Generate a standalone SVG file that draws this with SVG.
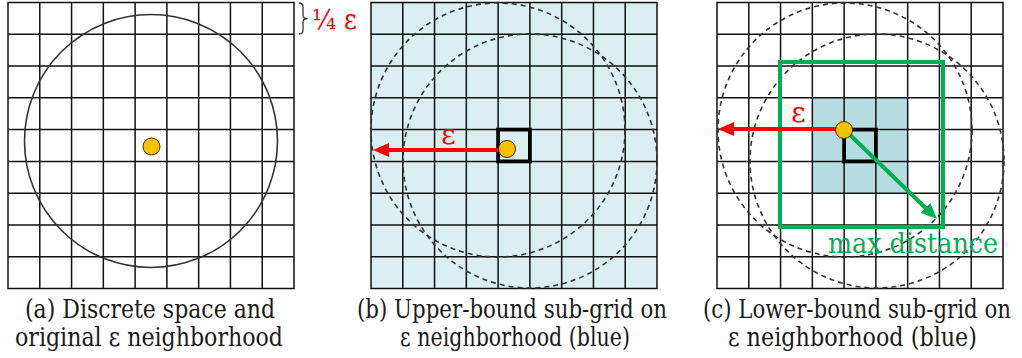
<svg xmlns="http://www.w3.org/2000/svg" xmlns:xlink="http://www.w3.org/1999/xlink" width="1022" height="358" viewBox="0 0 1022 358">
<style>
.grid{fill:none;stroke:#111;stroke-width:1.5}
.circ{fill:none;stroke:#333;stroke-width:1.6}
.dash{fill:none;stroke:#333;stroke-width:1.6;stroke-dasharray:5 4}
.cell{fill:none;stroke:#000;stroke-width:3.8}
.dot{fill:#ffc000;stroke:#3a3000;stroke-width:1}
.red{stroke:#ff0000;stroke-width:4;fill:none}
.green{stroke:#00b050;stroke-width:4;fill:none}
text{font-family:"DejaVu Serif","Liberation Serif",serif}
.lbl{font-size:28px}
.cap{font-size:26px;fill:#1a1a1a;text-anchor:middle}
</style>
<defs>
<path id="gridlines" class="grid" d="M0,0H286V286H0Z M31.78,0V286 M63.56,0V286 M95.33,0V286 M127.11,0V286 M158.89,0V286 M190.67,0V286 M222.44,0V286 M254.22,0V286 M0,31.78H286 M0,63.56H286 M0,95.33H286 M0,127.11H286 M0,158.89H286 M0,190.67H286 M0,222.44H286 M0,254.22H286"/>
<marker id="ahRed" markerUnits="userSpaceOnUse" markerWidth="16" markerHeight="14" viewBox="0 0 16 14" refX="2" refY="7" orient="auto"><path d="M0,0L16,7L0,14Z" fill="#ff0000"/></marker>
<marker id="ahGreen" markerUnits="userSpaceOnUse" markerWidth="16" markerHeight="14" viewBox="0 0 16 14" refX="2" refY="7" orient="auto"><path d="M0,0L16,7L0,14Z" fill="#00b050"/></marker>
</defs>

<g id="panel-a">
<use xlink:href="#gridlines" href="#gridlines" transform="translate(8,2.5)"/>
<circle class="circ" cx="151" cy="141" r="126.5"/>
<path d="M299,3 Q303,3 303,7 L303,15 Q303,18.5 307.5,18.5 Q303,18.5 303,22 L303,30 Q303,34 299,34" fill="none" stroke="#333" stroke-width="1.3"/>
<text x="312" y="29" fill="#ff0000" font-size="27" textLength="45" lengthAdjust="spacingAndGlyphs">¼ ε</text>
<circle class="dot" cx="151.5" cy="146.5" r="8.5"/>
<text class="cap" x="150" y="318" textLength="250" lengthAdjust="spacingAndGlyphs">(a) Discrete space and</text>
<text class="cap" x="149" y="346" textLength="268" lengthAdjust="spacingAndGlyphs">original ε neighborhood</text>
</g>

<g id="panel-b">
<rect x="371" y="2.5" width="286" height="286" fill="#dbeef0"/>
<use xlink:href="#gridlines" href="#gridlines" transform="translate(371,2.5)"/>
<circle class="dash" cx="498" cy="130" r="127"/>
<circle class="dash" cx="530" cy="161" r="127"/>
<rect class="cell" x="498.1" y="129.6" width="31.8" height="31.8"/>
<text class="cap" x="512" y="318" textLength="310" lengthAdjust="spacingAndGlyphs">(b) Upper-bound sub-grid on</text>
<text class="cap" x="515" y="346" textLength="230" lengthAdjust="spacingAndGlyphs">ε neighborhood (blue)</text>
</g>

<g id="panel-c">
<rect x="812.3" y="97.8" width="95.4" height="95.4" fill="#b6dce1"/>
<use xlink:href="#gridlines" href="#gridlines" transform="translate(717,2.5)"/>
<circle class="dash" cx="845" cy="130" r="127"/>
<circle class="dash" cx="877" cy="161" r="127"/>
<rect class="cell" x="844.1" y="129.6" width="31.8" height="31.8"/>
<rect x="780" y="62" width="163" height="165" class="green"/>
<text class="cap" x="857" y="318" textLength="308" lengthAdjust="spacingAndGlyphs">(c) Lower-bound sub-grid on</text>
<text class="cap" x="852.5" y="346" textLength="249" lengthAdjust="spacingAndGlyphs">ε neighborhood (blue)</text>
</g>

<g id="connectors">
<line class="red" x1="500" y1="150" x2="387" y2="150" marker-end="url(#ahRed)"/>
<line class="red" x1="840" y1="129" x2="732" y2="129" marker-end="url(#ahRed)"/>
<line class="green" x1="845" y1="130" x2="926.9" y2="209.3" marker-end="url(#ahGreen)"/>
</g>

<g id="labels">
<text class="lbl" x="448.5" y="144" fill="#ff0000" text-anchor="middle">ε</text>
<text class="lbl" x="798.5" y="122" fill="#ff0000" text-anchor="middle">ε</text>
<text x="828" y="253" fill="#00b050" font-size="28" textLength="170" lengthAdjust="spacingAndGlyphs">max distance</text>
</g>

<g id="dots">
<circle class="dot" cx="507" cy="149" r="8.5"/>
<circle class="dot" cx="844" cy="130" r="8.5"/>
</g>
</svg>
